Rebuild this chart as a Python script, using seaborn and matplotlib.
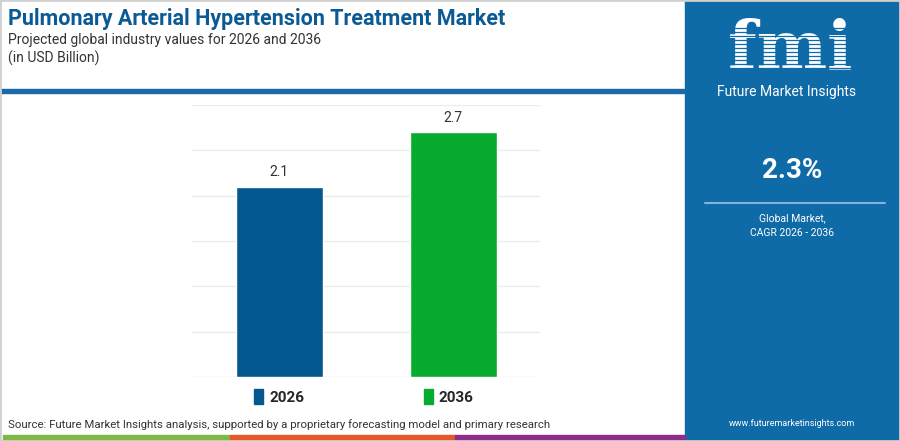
import matplotlib
matplotlib.use("Agg")
import matplotlib.pyplot as plt
import seaborn as sns
import pandas as pd
from matplotlib.patches import Rectangle, Patch

# data
years = ["2026", "2036"]
values = [2.1, 2.7]
bar_colors = ["#03588f", "#07ab2e"]
cagr = "2.3%"

W, H = 900, 441
panel_color = "#0f6ba8"

sns.set_theme(style="white")
plt.rcParams['font.family'] = ['Roboto', 'DejaVu Sans']

fig = plt.figure(figsize=(W / 100, H / 100), dpi=100)
fig.patch.set_facecolor("white")


def fx(px):
    return px / W


def fy(py):
    return 1 - py / H


# background bits drawn in figure coords
def frect(x0, y0, x1, y1, color, z=0):
    fig.patches.append(Rectangle((fx(x0), fy(y1)), fx(x1) - fx(x0), fy(y0) - fy(y1),
                                 transform=fig.transFigure, color=color, zorder=z))


frect(685, 0, 900, 441, panel_color)          # right panel
frect(0, 89, 685, 93, "#1a6aa7")              # header rule
frect(3, 435, 230, 440, "#7dba45")            # bottom stripes
frect(230, 435, 455, 440, "#e35a26")
frect(455, 435, 685, 440, "#8b2d8a")
fig.patches.append(Rectangle((0, 0), 1, 1, transform=fig.transFigure, fill=False,
                             edgecolor="#d0d0d0", linewidth=2, zorder=5))

# bar chart
ax = fig.add_axes([fx(192), fy(377), fx(540) - fx(192), fy(105) - fy(377)])
df = pd.DataFrame({"year": years, "value": values})
sns.barplot(data=df, x="year", y="value", hue="year", palette=bar_colors,
            width=0.5, saturation=1, legend=False, ax=ax)
ax.set_xlim(-0.5, 1.5)
ax.set_ylim(0, 3)
ax.set_yticks([0, 0.5, 1, 1.5, 2, 2.5, 3])
ax.yaxis.grid(True, color="#ececec", linewidth=1)
ax.set_axisbelow(True)
ax.tick_params(left=False, bottom=False, labelleft=False, labelbottom=False)
ax.set_xlabel("")
ax.set_ylabel("")
for s in ax.spines.values():
    s.set_visible(False)
ax.set_facecolor("none")
for i, v in enumerate(values):
    ax.text(i, v + 0.08, f"{v}", ha="center", va="bottom", fontsize=10, color="#333333")

# legend
handles = [Patch(color=c) for c in bar_colors]
fig.legend(handles, years, loc="center", bbox_to_anchor=(fx(364), fy(397)), ncol=2,
           frameon=False, handlelength=0.6, handleheight=1.1, handletextpad=0.4,
           columnspacing=7.8, prop={"weight": "bold", "size": 11})

# titles
fig.text(fx(8), fy(19), "Pulmonary Arterial Hypertension Treatment Market", fontsize=15.5,
         fontweight="bold", color="#0c5a94", va="center", ha="left")
fig.text(fx(8), fy(40), "Projected global industry values for 2026 and 2036", fontsize=10,
         color="#333333", va="center", ha="left")
fig.text(fx(8), fy(58), "(in USD Billion)", fontsize=10, color="#333333", va="center", ha="left")
fig.text(fx(8), fy(425), "Source: Future Market Insights analysis, supported by a proprietary "
         "forecasting model and primary research", fontsize=8.2, color="#333333",
         va="center", ha="left")

# right panel: logo
fig.text(fx(790), fy(50), "fmi", fontsize=48, fontweight="bold", color="white",
         family="DejaVu Serif", ha="center", va="center", zorder=2)
for yy in range(28, 78, 4):
    fig.lines.append(plt.Line2D([fx(720), fx(865)], [fy(yy), fy(yy)], transform=fig.transFigure,
                                color=panel_color, linewidth=0.9, zorder=3))
fig.text(fx(787), fy(92), "Future Market Insights", fontsize=10, color="white",
         ha="center", va="center")
fig.text(fx(792), fy(171), cagr, fontsize=20, fontweight="bold", color="white",
         ha="center", va="center")
fig.lines.append(plt.Line2D([fx(705), fx(885)], [fy(203), fy(203)], transform=fig.transFigure,
                            color="#7fb3d8", linewidth=1.5))
fig.text(fx(792), fy(218), "Global Market,", fontsize=7.5, color="white", ha="center", va="center")
fig.text(fx(792), fy(233), "CAGR 2026 - 2036", fontsize=7.5, color="white", ha="center", va="center")
fig.text(fx(792), fy(424), "www.futuremarketinsights.com", fontsize=6.5, color="white",
         ha="center", va="center")

fig.savefig("out.png", dpi=100, facecolor=fig.get_facecolor())
